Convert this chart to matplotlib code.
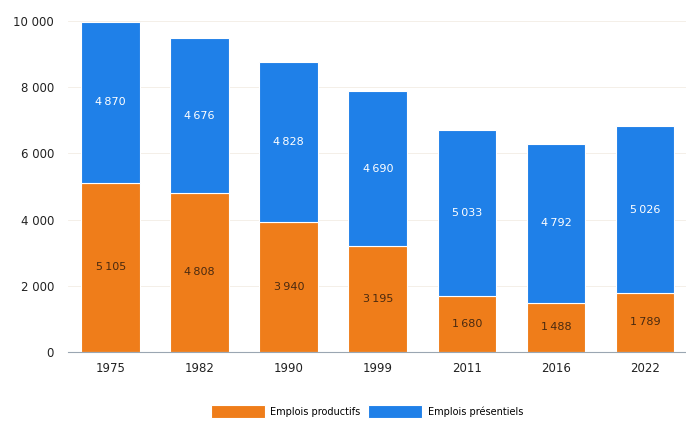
import matplotlib
matplotlib.use("Agg")
import matplotlib.pyplot as plt
from matplotlib.ticker import FuncFormatter
import numpy as np

years = ["1975", "1982", "1990", "1999", "2011", "2016", "2022"]
productifs = [5105, 4808, 3940, 3195, 1680, 1488, 1789]
presentiels = [4870, 4676, 4828, 4690, 5033, 4792, 5026]

c_orange = "#ef7d1a"
c_blue = "#1f80e8"

fig = plt.figure(figsize=(6.86, 4.22), dpi=100)
ax = fig.add_axes([0.099, 0.166, 0.901, 0.784])

x = np.arange(len(years))
w = 0.66
b1 = ax.bar(x, productifs, w, color=c_orange, edgecolor="white", linewidth=0.8,
            label="Emplois productifs", zorder=2)
b2 = ax.bar(x, presentiels, w, bottom=productifs, color=c_blue, edgecolor="white",
            linewidth=0.8, label="Emplois présentiels", zorder=2)

def fmt(v, sep=" "):
    return "{:,}".format(int(v)).replace(",", sep)

# valeurs au centre de chaque segment
for i in range(len(years)):
    ax.text(x[i], productifs[i] / 2, fmt(productifs[i], "\u2009"), ha="center", va="center",
            fontsize=8, color="#4a2a10", zorder=3)
    ax.text(x[i], productifs[i] + presentiels[i] / 2, fmt(presentiels[i], "\u2009"),
            ha="center", va="center", fontsize=8, color="white", zorder=3)

ax.set_xlim(-0.48, 6.46)
ax.set_ylim(0, 10000)
ax.set_yticks(range(0, 10001, 2000))
ax.yaxis.set_major_formatter(FuncFormatter(lambda v, p: fmt(v)))
ax.set_xticks(x)
ax.set_xticklabels(years)
ax.tick_params(axis="both", length=0, labelsize=8.5, colors="#222222")
ax.tick_params(axis="x", pad=7)
ax.tick_params(axis="y", pad=10)
for s in ["top", "right", "left"]:
    ax.spines[s].set_visible(False)
ax.spines["bottom"].set_color("#9aa6b2")
ax.grid(axis="y", color="#f3ece4", linewidth=0.6, zorder=0)
ax.set_axisbelow(True)

ax.legend(loc="upper center", bbox_to_anchor=(0.484, -0.135), ncol=2, frameon=False,
          fontsize=7, handlelength=5.5, handleheight=1.6, columnspacing=0.8,
          handletextpad=0.6)

fig.savefig("out.png", dpi=100)
